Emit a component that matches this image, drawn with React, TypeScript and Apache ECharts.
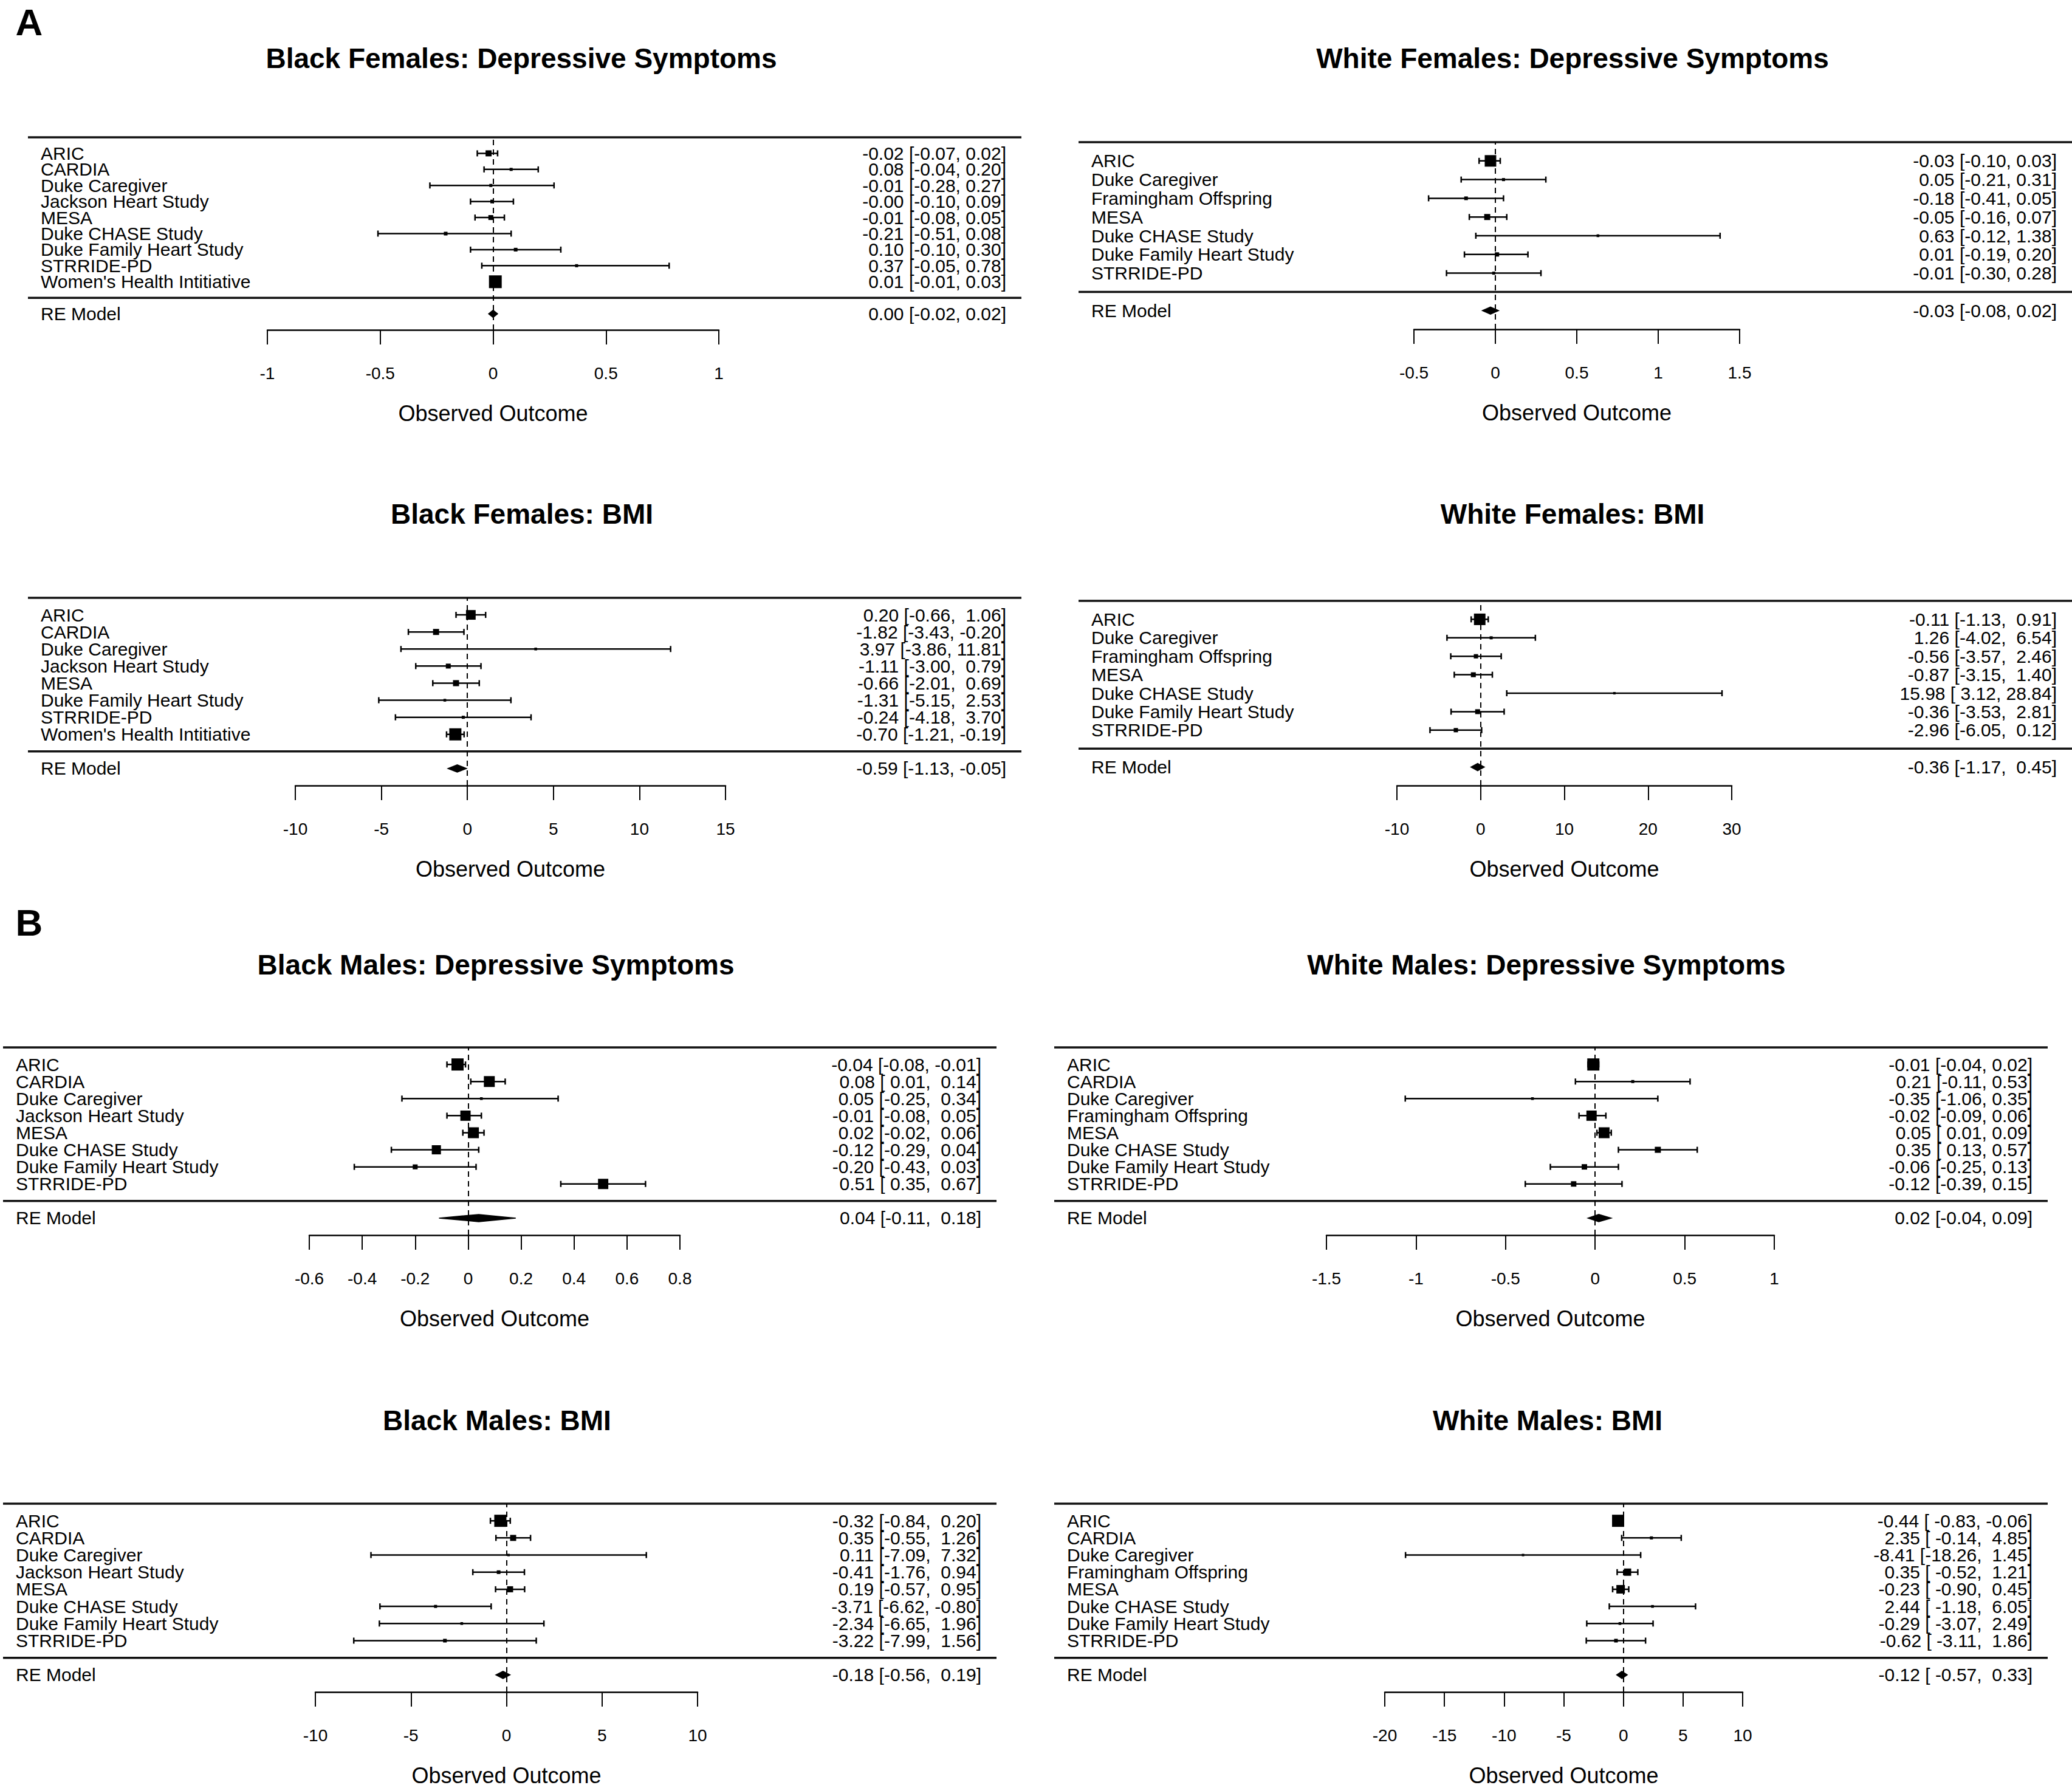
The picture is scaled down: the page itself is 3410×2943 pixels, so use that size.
import React, { useEffect, useRef } from "react";
import * as echarts from "echarts";

const FONT = '"Liberation Sans", Arial, Helvetica, sans-serif';

// ---------- A: Black Females, Depressive Symptoms ----------
const bfDepTitle = "Black Females: Depressive Symptoms";
const bfDepStudies = ["ARIC", "CARDIA", "Duke Caregiver", "Jackson Heart Study", "MESA", "Duke CHASE Study", "Duke Family Heart Study", "STRRIDE-PD", "Women's Health Intitiative"];
const bfDepEst = [-0.02, 0.08, -0.01, -0.004, -0.01, -0.21, 0.1, 0.37, 0.01];
const bfDepLower = [-0.07, -0.04, -0.28, -0.1, -0.08, -0.51, -0.1, -0.05, -0.01];
const bfDepUpper = [0.02, 0.2, 0.27, 0.09, 0.05, 0.08, 0.3, 0.78, 0.03];
const bfDepWeight = [35, 6, 6, 12, 24, 12, 12, 6, 100];
const bfDepRE = [0.0, -0.02, 0.02];
const bfDepTicks = [-1, -0.5, 0, 0.5, 1];

// ---------- A: White Females, Depressive Symptoms ----------
const wfDepTitle = "White Females: Depressive Symptoms";
const wfDepStudies = ["ARIC", "Duke Caregiver", "Framingham Offspring", "MESA", "Duke CHASE Study", "Duke Family Heart Study", "STRRIDE-PD"];
const wfDepEst = [-0.03, 0.05, -0.18, -0.05, 0.63, 0.01, -0.01];
const wfDepLower = [-0.1, -0.21, -0.41, -0.16, -0.12, -0.19, -0.3];
const wfDepUpper = [0.03, 0.31, 0.05, 0.07, 1.38, 0.2, 0.28];
const wfDepWeight = [88, 6, 12, 35, 3, 18, 6];
const wfDepRE = [-0.03, -0.08, 0.02];
const wfDepTicks = [-0.5, 0, 0.5, 1, 1.5];

// ---------- A: Black Females, BMI ----------
const bfBmiTitle = "Black Females: BMI";
const bfBmiStudies = ["ARIC", "CARDIA", "Duke Caregiver", "Jackson Heart Study", "MESA", "Duke Family Heart Study", "STRRIDE-PD", "Women's Health Intitiative"];
const bfBmiEst = [0.2, -1.82, 3.97, -1.11, -0.66, -1.31, -0.24, -0.7];
const bfBmiLower = [-0.66, -3.43, -3.86, -3.0, -2.01, -5.15, -4.18, -1.21];
const bfBmiUpper = [1.06, -0.2, 11.81, 0.79, 0.69, 2.53, 3.7, -0.19];
const bfBmiWeight = [70, 35, 3, 24, 35, 3, 6, 94];
const bfBmiRE = [-0.59, -1.13, -0.05];
const bfBmiTicks = [-10, -5, 0, 5, 10, 15];

// ---------- A: White Females, BMI ----------
const wfBmiTitle = "White Females: BMI";
const wfBmiStudies = ["ARIC", "Duke Caregiver", "Framingham Offspring", "MESA", "Duke CHASE Study", "Duke Family Heart Study", "STRRIDE-PD"];
const wfBmiEst = [-0.11, 1.26, -0.56, -0.87, 15.98, -0.36, -2.96];
const wfBmiLower = [-1.13, -4.02, -3.57, -3.15, 3.12, -3.53, -6.05];
const wfBmiUpper = [0.91, 6.54, 2.46, 1.4, 28.84, 2.81, 0.12];
const wfBmiWeight = [88, 6, 18, 24, 0, 24, 18];
const wfBmiRE = [-0.36, -1.17, 0.45];
const wfBmiTicks = [-10, 0, 10, 20, 30];

// ---------- B: Black Males, Depressive Symptoms ----------
const bmDepTitle = "Black Males: Depressive Symptoms";
const bmDepStudies = ["ARIC", "CARDIA", "Duke Caregiver", "Jackson Heart Study", "MESA", "Duke CHASE Study", "Duke Family Heart Study", "STRRIDE-PD"];
const bmDepEst = [-0.04, 0.08, 0.05, -0.01, 0.02, -0.12, -0.2, 0.51];
const bmDepLower = [-0.08, 0.01, -0.25, -0.08, -0.02, -0.29, -0.43, 0.35];
const bmDepUpper = [-0.01, 0.14, 0.34, 0.05, 0.06, 0.04, 0.03, 0.67];
const bmDepWeight = [94, 82, 3, 76, 82, 65, 24, 76];
const bmDepRE = [0.04, -0.11, 0.18];
const bmDepTicks = [-0.6, -0.4, -0.2, 0, 0.2, 0.4, 0.6, 0.8];

// ---------- B: White Males, Depressive Symptoms ----------
const wmDepTitle = "White Males: Depressive Symptoms";
const wmDepStudies = ["ARIC", "CARDIA", "Duke Caregiver", "Framingham Offspring", "MESA", "Duke CHASE Study", "Duke Family Heart Study", "STRRIDE-PD"];
const wmDepEst = [-0.01, 0.21, -0.35, -0.02, 0.05, 0.35, -0.06, -0.12];
const wmDepLower = [-0.04, -0.11, -1.06, -0.09, 0.01, 0.13, -0.25, -0.39];
const wmDepUpper = [0.02, 0.53, 0.35, 0.06, 0.09, 0.57, 0.13, 0.15];
const wmDepWeight = [94, 6, 3, 76, 82, 35, 29, 29];
const wmDepRE = [0.02, -0.04, 0.09];
const wmDepTicks = [-1.5, -1, -0.5, 0, 0.5, 1];

// ---------- B: Black Males, BMI ----------
const bmBmiTitle = "Black Males: BMI";
const bmBmiStudies = ["ARIC", "CARDIA", "Duke Caregiver", "Jackson Heart Study", "MESA", "Duke CHASE Study", "Duke Family Heart Study", "STRRIDE-PD"];
const bmBmiEst = [-0.32, 0.35, 0.11, -0.41, 0.19, -3.71, -2.34, -3.22];
const bmBmiLower = [-0.84, -0.55, -7.09, -1.76, -0.57, -6.62, -6.65, -7.99];
const bmBmiUpper = [0.2, 1.26, 7.32, 0.94, 0.95, -0.8, 1.96, 1.56];
const bmBmiWeight = [94, 35, 0, 12, 35, 6, 3, 12];
const bmBmiRE = [-0.18, -0.56, 0.19];
const bmBmiTicks = [-10, -5, 0, 5, 10];

// ---------- B: White Males, BMI ----------
const wmBmiTitle = "White Males: BMI";
const wmBmiStudies = ["ARIC", "CARDIA", "Duke Caregiver", "Framingham Offspring", "MESA", "Duke CHASE Study", "Duke Family Heart Study", "STRRIDE-PD"];
const wmBmiEst = [-0.44, 2.35, -8.41, 0.35, -0.23, 2.44, -0.29, -0.62];
const wmBmiLower = [-0.83, -0.14, -18.26, -0.52, -0.9, -1.18, -3.07, -3.11];
const wmBmiUpper = [-0.06, 4.85, 1.45, 1.21, 0.45, 6.05, 2.49, 1.86];
const wmBmiWeight = [94, 6, 0, 47, 59, 3, 3, 12];
const wmBmiRE = [-0.12, -0.57, 0.33];
const wmBmiTicks = [-20, -15, -10, -5, 0, 5, 10];

const panelLetters = ["A", "B"];
const summaryLabel = "RE Model";
const xAxisTitle = "Observed Outcome";

type Panel = {
  title: string;
  studies: string[];
  est: number[];
  lower: number[];
  upper: number[];
  weight: number[];
  re: number[];
  ticks: number[];
};

const panels: Panel[] = [
  { title: bfDepTitle, studies: bfDepStudies, est: bfDepEst, lower: bfDepLower, upper: bfDepUpper, weight: bfDepWeight, re: bfDepRE, ticks: bfDepTicks },
  { title: wfDepTitle, studies: wfDepStudies, est: wfDepEst, lower: wfDepLower, upper: wfDepUpper, weight: wfDepWeight, re: wfDepRE, ticks: wfDepTicks },
  { title: bfBmiTitle, studies: bfBmiStudies, est: bfBmiEst, lower: bfBmiLower, upper: bfBmiUpper, weight: bfBmiWeight, re: bfBmiRE, ticks: bfBmiTicks },
  { title: wfBmiTitle, studies: wfBmiStudies, est: wfBmiEst, lower: wfBmiLower, upper: wfBmiUpper, weight: wfBmiWeight, re: wfBmiRE, ticks: wfBmiTicks },
  { title: bmDepTitle, studies: bmDepStudies, est: bmDepEst, lower: bmDepLower, upper: bmDepUpper, weight: bmDepWeight, re: bmDepRE, ticks: bmDepTicks },
  { title: wmDepTitle, studies: wmDepStudies, est: wmDepEst, lower: wmDepLower, upper: wmDepUpper, weight: wmDepWeight, re: wmDepRE, ticks: wmDepTicks },
  { title: bmBmiTitle, studies: bmBmiStudies, est: bmBmiEst, lower: bmBmiLower, upper: bmBmiUpper, weight: bmBmiWeight, re: bmBmiRE, ticks: bmBmiTicks },
  { title: wmBmiTitle, studies: wmBmiStudies, est: wmBmiEst, lower: wmBmiLower, upper: wmBmiUpper, weight: wmBmiWeight, re: wmBmiRE, ticks: wmBmiTicks },
];

// ---------- layout (pixels) ----------
const FRAME_W = 1635;
const layouts = [
  { frameL: 46, axisL: 440, axisR: 1183, top: 226, bottom: 543, titleX: 858, titleY: 96 },
  { frameL: 1775, axisL: 2327, axisR: 2863, top: 234, bottom: 542, titleX: 2588, titleY: 96 },
  { frameL: 46, axisL: 486, axisR: 1194, top: 984, bottom: 1293, titleX: 859, titleY: 846 },
  { frameL: 1775, axisL: 2299, axisR: 2850, top: 989, bottom: 1293, titleX: 2588, titleY: 846 },
  { frameL: 5, axisL: 509, axisR: 1119, top: 1724, bottom: 2033, titleX: 816, titleY: 1588 },
  { frameL: 1735, axisL: 2183, axisR: 2920, top: 1724, bottom: 2033, titleX: 2545, titleY: 1588 },
  { frameL: 5, axisL: 519, axisR: 1148, top: 2475, bottom: 2785, titleX: 818, titleY: 2338 },
  { frameL: 1735, axisL: 2279, axisR: 2868, top: 2475, bottom: 2785, titleX: 2547, titleY: 2338 },
];
const letterPos = [
  { x: 48, y: 36 },
  { x: 48, y: 1518 },
];

const NBSP = "\u00A0";
const f2 = (v: number) => v.toFixed(2);
const padL = (s: string, w: number) => NBSP.repeat(Math.max(0, w - s.length)) + s;

function annotations(p: Panel): string[] {
  const lows = [...p.lower, p.re[1]].map(f2);
  const highs = [...p.upper, p.re[2]].map(f2);
  const ests = [...p.est, p.re[0]].map(f2);
  const wl = Math.max(...lows.map((s) => s.length));
  const wh = Math.max(...highs.map((s) => s.length));
  return ests.map((e, i) => `${e} [${padL(lows[i], wl)}, ${padL(highs[i], wh)}]`);
}

function buildOption() {
  const grid: any[] = [];
  const xAxis: any[] = [];
  const yAxis: any[] = [];
  const series: any[] = [];
  const graphic: any[] = [];

  panels.forEach((p, i) => {
    const l = layouts[i];
    const k = p.studies.length;
    const ann = annotations(p);
    const step = Math.round((p.ticks[1] - p.ticks[0]) * 1e6) / 1e6;

    grid.push({ left: l.axisL, top: l.top, width: l.axisR - l.axisL, height: l.bottom - l.top, containLabel: false });

    xAxis.push({
      gridIndex: i,
      type: "value",
      min: p.ticks[0],
      max: p.ticks[p.ticks.length - 1],
      interval: step,
      name: xAxisTitle,
      nameLocation: "middle",
      nameGap: 119,
      nameTextStyle: { fontFamily: FONT, fontSize: 36, color: "#000", verticalAlign: "top" },
      axisLine: { show: true, onZero: false, lineStyle: { color: "#000", width: 2.5 } },
      axisTick: { show: true, inside: false, length: 24, lineStyle: { color: "#000", width: 2 } },
      axisLabel: {
        show: true,
        margin: 57,
        fontFamily: FONT,
        fontSize: 28,
        color: "#000",
        showMinLabel: true,
        showMaxLabel: true,
        formatter: (v: number) => String(Math.round(v * 1000) / 1000),
      },
      splitLine: { show: false },
    });

    const yBase = {
      gridIndex: i,
      type: "value",
      min: -2,
      max: k + 1,
      interval: 1,
      axisLine: { show: false },
      axisTick: { show: false },
      splitLine: { show: false },
    };
    yAxis.push({
      ...yBase,
      position: "left",
      axisLabel: {
        show: true,
        align: "left",
        margin: l.axisL - (l.frameL + 21),
        fontFamily: FONT,
        fontSize: 30,
        color: "#000",
        formatter: (v: number) => {
          if (v >= 1 && v <= k && Number.isInteger(v)) return p.studies[k - v];
          if (v === -1) return summaryLabel;
          return "";
        },
      },
    });
    yAxis.push({
      ...yBase,
      position: "right",
      axisLabel: {
        show: true,
        align: "right",
        margin: l.frameL + FRAME_W - 25 - l.axisR,
        fontFamily: FONT,
        fontSize: 30,
        color: "#000",
        formatter: (v: number) => {
          if (v >= 1 && v <= k && Number.isInteger(v)) return ann[k - v];
          if (v === -1) return ann[k];
          return "";
        },
      },
    });

    // horizontal rules (top and separator) + dashed reference line at 0
    series.push({
      type: "custom",
      xAxisIndex: i,
      yAxisIndex: 2 * i,
      silent: true,
      data: [
        [0, k + 1],
        [0, 0],
      ],
      encode: { x: 0, y: 1 },
      renderItem: (params: any, api: any) => {
        const y = api.coord([0, api.value(1)])[1];
        return {
          type: "line",
          shape: { x1: l.frameL, y1: y, x2: l.frameL + FRAME_W, y2: y },
          style: { stroke: "#111", lineWidth: 3.5 },
        };
      },
      markLine: {
        silent: true,
        symbol: ["none", "none"],
        label: { show: false },
        lineStyle: { color: "#000", width: 2, type: [9, 7] },
        data: [{ xAxis: 0 }],
      },
    });

    // studies: CI line with caps and weighted square
    series.push({
      type: "custom",
      xAxisIndex: i,
      yAxisIndex: 2 * i,
      silent: true,
      data: p.studies.map((_, j) => [p.lower[j], p.upper[j], p.est[j], k - j, p.weight[j]]),
      encode: { x: [0, 1, 2], y: 3 },
      renderItem: (params: any, api: any) => {
        const y = api.value(3);
        const lo = api.coord([api.value(0), y]);
        const hi = api.coord([api.value(1), y]);
        const es = api.coord([api.value(2), y]);
        const side = 4 + 0.17 * api.value(4);
        const st = { stroke: "#000", lineWidth: 2.5 };
        return {
          type: "group",
          children: [
            { type: "line", shape: { x1: lo[0], y1: lo[1], x2: hi[0], y2: hi[1] }, style: st },
            { type: "line", shape: { x1: lo[0], y1: lo[1] - 5, x2: lo[0], y2: lo[1] + 5 }, style: st },
            { type: "line", shape: { x1: hi[0], y1: hi[1] - 5, x2: hi[0], y2: hi[1] + 5 }, style: st },
            { type: "rect", shape: { x: es[0] - side / 2, y: es[1] - side / 2, width: side, height: side }, style: { fill: "#000" } },
          ],
        };
      },
    });

    // summary diamond
    series.push({
      type: "custom",
      xAxisIndex: i,
      yAxisIndex: 2 * i,
      silent: true,
      data: [[p.re[1], p.re[2], p.re[0], -1]],
      encode: { x: [0, 1, 2], y: 3 },
      renderItem: (params: any, api: any) => {
        const y = api.value(3);
        const lo = api.coord([api.value(0), y]);
        const hi = api.coord([api.value(1), y]);
        const es = api.coord([api.value(2), y]);
        return {
          type: "polygon",
          shape: { points: [[lo[0], lo[1]], [es[0], es[1] - 6], [hi[0], hi[1]], [es[0], es[1] + 6]] },
          style: { fill: "#000", stroke: "#000", lineWidth: 1.5 },
        };
      },
    });

    graphic.push({
      type: "text",
      x: l.titleX,
      y: l.titleY,
      style: {
        text: p.title,
        fontFamily: FONT,
        fontSize: 46,
        fontWeight: "bold",
        fill: "#000",
        align: "center",
        verticalAlign: "middle",
        textAlign: "center",
        textVerticalAlign: "middle",
      },
    });
  });

  panelLetters.forEach((t, i) => {
    graphic.push({
      type: "text",
      x: letterPos[i].x,
      y: letterPos[i].y,
      style: {
        text: t,
        fontFamily: FONT,
        fontSize: 62,
        fontWeight: "bold",
        fill: "#000",
        align: "center",
        verticalAlign: "middle",
        textAlign: "center",
        textVerticalAlign: "middle",
      },
    });
  });

  return {
    animation: false,
    backgroundColor: "#fff",
    textStyle: { fontFamily: FONT },
    grid,
    xAxis,
    yAxis,
    series,
    graphic,
  };
}

export default function App() {
  const ref = useRef<HTMLDivElement>(null);
  useEffect(() => {
    if (!ref.current) return;
    const chart = echarts.init(ref.current, undefined, { renderer: "svg" });
    chart.setOption(buildOption() as any);
    return () => chart.dispose();
  }, []);
  return (
    <div
      ref={ref}
      style={{ position: "absolute", left: 0, top: 0, width: 3410, height: 2943, background: "#fff" }}
    />
  );
}
